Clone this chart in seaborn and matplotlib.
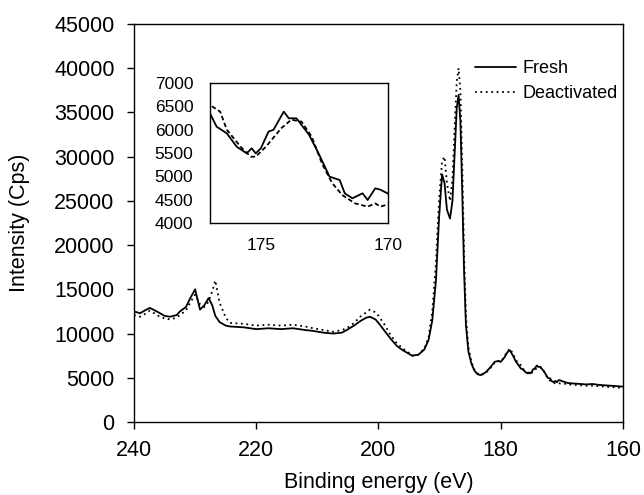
import matplotlib
matplotlib.use("Agg")
import matplotlib.pyplot as plt
import seaborn as sns

# ---------------- data ----------------
fresh_energy = [240, 239, 238, 237.4, 236, 235, 234.1, 233, 232.5, 231.5, 230.8, 230.0,
                229.2, 228.5, 227.8, 227.2, 226.7, 226, 225, 224.3, 222, 220, 218, 216,
                214, 212, 210.7, 209, 207.4, 206, 205.2, 204, 203, 202, 201.4, 200.5,
                200, 199, 198, 197, 196, 195, 194.5, 193.5, 192.5, 191.8, 191.2, 190.6,
                190.1, 189.6, 189.2, 188.8, 188.3, 187.9, 187.5, 187.2, 186.9, 186.6,
                186.3, 186.0, 185.7, 185.3, 184.8, 184.3, 183.8, 183.3, 182.5, 181.8,
                181.0, 180.4, 180.0, 179.4, 178.9, 178.5, 178.0, 177.5,
                176.97, 176.74, 176.34, 175.95, 175.56, 175.36, 175.2, 175.0, 174.7,
                174.5, 174.1, 173.9, 173.6, 173.1, 172.7, 172.3, 171.9, 171.7, 171.4,
                171.0, 170.8, 170.5, 170.3, 170.0,
                169, 168, 167, 166, 165, 164, 163, 162, 161, 160]
fresh_intensity = [12500, 12300, 12700, 12900, 12400, 12000, 11900, 12100, 12500, 13000, 14000, 15000,
                   12700, 13200, 14000, 13200, 12000, 11300, 10900, 10800, 10700, 10500, 10600, 10500,
                   10600, 10400, 10300, 10100, 10000, 10100, 10400, 10900, 11400, 11800, 11900, 11600,
                   11200, 10300, 9400, 8600, 8100, 7700, 7500, 7600, 8200, 9300, 11500, 16000,
                   23000, 28000, 27000, 24000, 23000, 25000, 31000, 35500, 37000, 34000,
                   26000, 17000, 11000, 8000, 6600, 5800, 5400, 5300, 5600, 6100,
                   6800, 6900, 6800, 7300, 7900, 8100, 7500, 6800,
                   6314, 6064, 5922, 5635, 5493, 5600, 5493, 5600, 5957,
                   6000, 6386, 6243, 6243, 5886, 5457, 4993, 4921, 4636, 4529,
                   4636, 4493, 4743, 4714, 4630,
                   4400, 4350, 4300, 4250, 4300, 4200, 4150, 4100, 4050, 4000]

deact_energy = [240, 239, 238, 237.4, 236, 235, 234.1, 233, 232.5, 231.5, 230.8, 230.0,
                229.2, 228.5, 227.8, 227.2, 226.7, 226, 225, 224.3, 222, 220, 218, 216,
                214, 212, 210.7, 209, 207.4, 206, 205.2, 204, 203, 202, 201.4, 200.5,
                200, 199, 198, 197, 196, 195, 194.5, 193.5, 192.5, 191.8, 191.2, 190.6,
                190.1, 189.6, 189.2, 188.8, 188.3, 187.9, 187.5, 187.2, 186.9, 186.6,
                186.3, 186.0, 185.7, 185.3, 184.8, 184.3, 183.8, 183.3, 182.5, 181.8,
                181.0, 180.4, 180.0, 179.4, 178.9, 178.5, 178.0, 177.5,
                177.0, 176.6, 176.34, 175.8, 175.4, 175.2, 174.8, 174.2, 173.8, 173.4,
                173.0, 172.6, 172.2, 171.8, 171.3, 170.8, 170.5, 170.3, 170.0,
                169, 168, 167, 166, 165, 164, 163, 162, 161, 160]
deact_intensity = [12100, 11900, 12300, 12600, 12000, 11700, 11600, 11800, 12100, 12600, 13500, 14400,
                   13300, 13000, 13600, 14800, 16000, 13500, 11800, 11200, 11100, 10900, 11000, 10900,
                   11000, 10800, 10600, 10400, 10200, 10400, 10600, 11200, 11900, 12400, 12700, 12400,
                   12000, 11000, 9800, 8900, 8300, 7800, 7500, 7600, 8300, 9600, 12500, 18000,
                   25000, 29500, 30000, 27000, 25000, 27500, 34000, 38500, 40000, 37500,
                   29000, 19000, 12000, 8500, 6800, 5900, 5500, 5300, 5500, 6000,
                   6700, 6900, 6800, 7400, 8000, 8300, 7700, 7000,
                   6529, 6386, 6000, 5635, 5421, 5421, 5635, 6029, 6214, 6171,
                   5850, 5279, 4857, 4600, 4421, 4350, 4421, 4350, 4400,
                   4250, 4200, 4150, 4100, 4100, 4050, 4000, 3950, 3900, 3850]

series_labels = ["Fresh", "Deactivated"]
x_ticks = [240, 220, 200, 180, 160]
y_ticks = [0, 5000, 10000, 15000, 20000, 25000, 30000, 35000, 40000, 45000]
inset_x_ticks = [175, 170]
inset_y_ticks = [4000, 4500, 5000, 5500, 6000, 6500, 7000]

# ---------------- style ----------------
sns.set_theme(style="ticks")
plt.rcParams["font.family"] = ["Liberation Sans", "DejaVu Sans"]
plt.rcParams["text.color"] = "black"
plt.rcParams["axes.labelcolor"] = "black"
plt.rcParams["xtick.color"] = "black"
plt.rcParams["ytick.color"] = "black"

dotted = (0, (1.0, 2.0))

fig = plt.figure(figsize=(6.44, 4.95), dpi=100)
ax = fig.add_axes([134 / 644, 1 - 422 / 495, 489 / 644, 398 / 495])

sns.lineplot(x=fresh_energy, y=fresh_intensity, ax=ax, color="black", lw=1.3,
             label=series_labels[0], sort=False)
sns.lineplot(x=deact_energy, y=deact_intensity, ax=ax, color="black", lw=1.3,
             linestyle=dotted, label=series_labels[1], sort=False)

ax.set_xlim(240, 160)
ax.set_ylim(0, 45000)
ax.set_xticks(x_ticks)
ax.set_yticks(y_ticks)
ax.set_xticklabels([str(t) for t in x_ticks])
ax.set_yticklabels([str(t) for t in y_ticks])
ax.tick_params(axis="both", direction="out", length=5, width=1, labelsize=15.5)
ax.tick_params(axis="y", pad=9)
ax.tick_params(axis="x", pad=8)
for s in ax.spines.values():
    s.set_visible(True)
    s.set_linewidth(1.0)
    s.set_color("black")
ax.set_xlabel("Binding energy (eV)", fontsize=15.5, labelpad=8)
ax.set_ylabel("Intensity (Cps)", fontsize=15.5, labelpad=17)

leg = ax.legend(loc="upper left", bbox_to_anchor=(0.697, 0.91), frameon=False,
                fontsize=13, handlelength=2.3, handletextpad=0.35, borderpad=0,
                borderaxespad=0, labelspacing=0.45)

# ---------------- inset ----------------
axin = fig.add_axes([210 / 644, 1 - 223 / 495, 178 / 644, 140 / 495])
sns.lineplot(x=fresh_energy, y=fresh_intensity, ax=axin, color="black", lw=1.3, sort=False)
sns.lineplot(x=deact_energy, y=deact_intensity, ax=axin, color="black", lw=1.3,
             linestyle=(0, (2.5, 1.5)), sort=False)
axin.set_xlim(177, 170)
axin.set_ylim(4000, 7000)
axin.set_xticks(inset_x_ticks)
axin.set_yticks(inset_y_ticks)
axin.set_xticklabels([str(t) for t in inset_x_ticks])
axin.set_yticklabels([str(t) for t in inset_y_ticks])
axin.tick_params(axis="both", length=0, labelsize=12.5)
axin.tick_params(axis="y", pad=12)
axin.tick_params(axis="x", pad=10.5)
axin.set_xlabel("")
axin.set_ylabel("")
for s in axin.spines.values():
    s.set_visible(True)
    s.set_linewidth(1.0)
    s.set_color("black")
if axin.get_legend() is not None:
    axin.get_legend().remove()

fig.savefig("out.png", dpi=100)
